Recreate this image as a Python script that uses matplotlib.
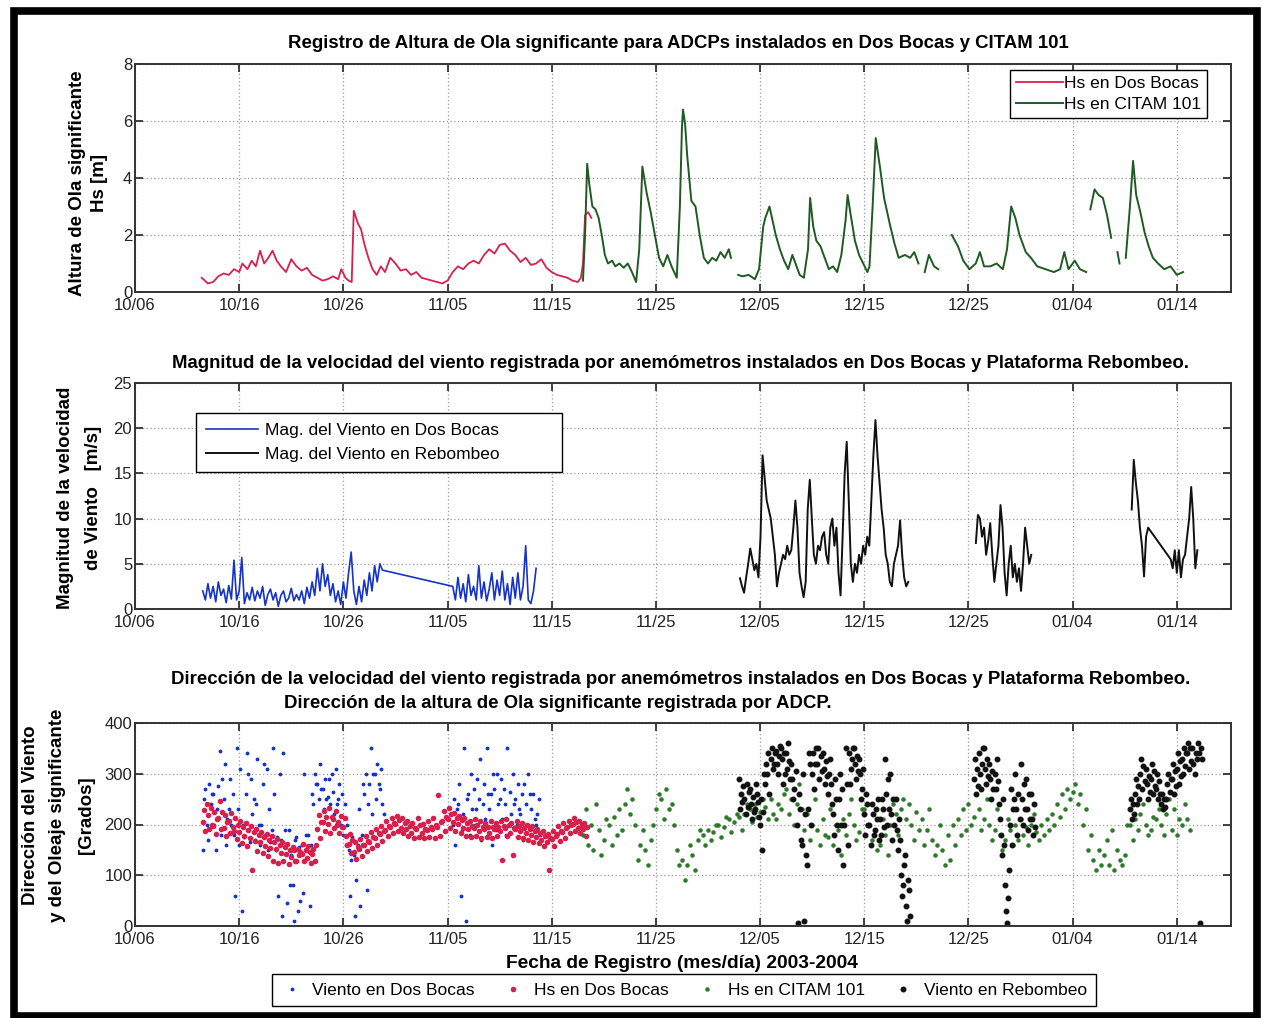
import numpy as np
import matplotlib
matplotlib.use("Agg")
import matplotlib.pyplot as plt
from matplotlib.patches import Rectangle

plt.rcParams['font.family'] = ['Liberation Sans', 'DejaVu Sans']

W, H = 1262, 1018
nan = np.nan

# ---- eje temporal: dias desde 10/06 ----
tick_days = [0, 10, 20, 30, 40, 50, 60, 70, 80, 90, 100]
tick_labels = ['10/06', '10/16', '10/26', '11/05', '11/15', '11/25',
               '12/05', '12/15', '12/25', '01/04', '01/14']

# ---- Hs en Dos Bocas [m] ----
hs_db_day = [6.4, 7.0, 7.5, 8.0, 8.5, 9.0, 9.5, 10.0,
             10.3, 10.8, 11.2, 11.6, 12.0, 12.4, 12.8, 13.2, 13.6, 14.0,
             14.5, 15.0, 15.5, 16.0, 16.5, 17.0, 17.5, 18.0, 18.5, 19.0, 19.5,
             19.8, 20.2, 20.5, 20.8, 21.0, 21.4, 21.7, 22.0, 22.4, 22.8, 23.2, 23.6, 24.0,
             24.5, 25.0, 25.5, 26.0, 26.5, 27.0, 27.5, 28.0, 28.5, 29.0, 29.5, 30.0,
             30.5, 31.0, 31.5, 32.0, 32.5, 33.0, 33.5, 34.0, 34.5, 35.0, 35.5, 36.0,
             36.5, 37.0, 37.5, 38.0, 38.5, 39.0, 39.5, 40.0, 40.5, 41.0, 41.5, 42.0, 42.5,
             42.8, 43.0, 43.2, 43.5, 43.8]
hs_db = [0.5, 0.3, 0.35, 0.55, 0.65, 0.6, 0.8, 0.7,
         1.0, 0.8, 1.1, 0.9, 1.45, 1.0, 1.2, 1.45, 1.1, 0.9,
         0.7, 1.15, 0.9, 0.75, 0.85, 0.6, 0.5, 0.4, 0.45, 0.55, 0.45,
         0.8, 0.5, 0.4, 0.35, 2.85, 2.4, 2.2, 1.7, 1.2, 0.8, 0.6, 0.9, 0.7,
         1.2, 1.0, 0.75, 0.8, 0.6, 0.7, 0.5, 0.45, 0.4, 0.35, 0.3, 0.4,
         0.7, 0.9, 0.8, 1.0, 1.1, 1.0, 1.3, 1.5, 1.35, 1.65, 1.7, 1.45,
         1.3, 1.05, 1.2, 0.95, 1.0, 1.15, 0.85, 0.7, 0.6, 0.55, 0.5, 0.4, 0.35,
         0.5, 1.0, 2.7, 2.8, 2.6]

# ---- Hs en CITAM 101 [m] ----
hs_ct_day = [43.0, 43.2, 43.4, 43.6, 43.9, 44.2, 44.5, 44.8, 45.1, 45.4, 45.8, 46.1,
             46.5, 46.9, 47.3, 47.7, 48.1, 48.4, 48.7, 49.1, 49.5, 49.9, 50.3, 50.7,
             51.1, 51.5, 52.0, 52.3, 52.5, 52.6, 52.8, 53.0, 53.4, 53.8, 54.2, 54.6,
             55.0, 55.4, 55.8, 56.2, 56.6, 57.0, 57.2, 57.5, 57.9, 58.3, 58.9, 59.5,
             59.9, 60.3, 60.5, 60.9, 61.2, 61.5, 61.9, 62.3, 62.7, 63.1, 63.5, 63.8,
             64.2, 64.6, 64.8, 65.1, 65.4, 65.8, 66.2, 66.6, 67.0, 67.4, 67.8, 68.2,
             68.4, 68.7, 69.1, 69.5, 69.9, 70.3, 70.5, 70.8, 71.1, 71.5, 71.9, 72.5,
             72.9, 73.3, 73.9, 74.4, 74.8, 75.2, 75.5, 75.8, 76.2, 76.7, 77.1, 77.5,
             78.4, 79.0, 79.5, 80.1, 80.7, 81.1, 81.5, 82.1, 82.7, 83.3, 83.7, 84.1,
             84.5, 84.9, 85.5, 86.0, 86.6, 87.4, 88.2, 88.8, 89.2, 89.6, 90.2, 90.7,
             91.3, 91.5, 91.7, 92.1, 92.5, 92.9, 93.3, 93.7, 94.0, 94.3, 94.5, 94.8,
             95.1, 95.5, 95.8, 96.1, 96.5, 96.9, 97.3, 97.7, 98.2, 98.8, 99.4, 100.0, 100.6]
hs_ct = [0.4, 2.0, 4.5, 3.8, 3.0, 2.9, 2.6, 2.0, 1.3, 1.0, 1.1, 0.9,
         1.0, 0.85, 1.0, 0.7, 0.35, 1.5, 4.4, 3.5, 2.8, 2.0, 1.2, 0.9,
         1.3, 0.9, 0.5, 3.0, 5.8, 6.4, 5.9, 4.8, 3.2, 3.0, 2.0, 1.2,
         1.0, 1.2, 1.1, 1.4, 1.2, 1.5, 1.2, nan, 0.6, 0.55, 0.6, 0.45,
         0.8, 2.3, 2.6, 3.0, 2.5, 2.0, 1.5, 1.1, 0.8, 1.3, 0.9, 0.6,
         0.5, 1.5, 3.3, 2.3, 1.8, 1.6, 1.2, 0.8, 0.9, 0.7, 1.3, 2.5,
         3.4, 2.7, 1.8, 1.3, 1.0, 0.7, 0.9, 3.0, 5.4, 4.4, 3.3, 2.3,
         1.7, 1.2, 1.3, 1.2, 1.4, 1.0, nan, 0.7, 1.3, 0.9, 0.8, nan,
         2.0, 1.6, 1.1, 0.8, 1.0, 1.4, 0.9, 0.9, 1.0, 0.8, 1.5, 3.0,
         2.6, 2.0, 1.4, 1.2, 0.9, 0.8, 0.7, 0.8, 1.4, 0.8, 1.1, 0.8,
         0.7, nan, 2.9, 3.6, 3.4, 3.3, 2.7, 1.9, nan, 1.4, 1.0, nan,
         1.2, 3.0, 4.6, 3.4, 2.8, 2.1, 1.6, 1.2, 1.0, 0.8, 0.9, 0.6, 0.7]

# ---- magnitud del viento en Dos Bocas [m/s], cada 6 h ----
vel_db_a = [2.0, 1.0, 2.8, 1.2, 2.5, 0.8, 3.0, 1.5, 2.2, 0.7, 2.6, 1.1,
            5.4, 1.0, 2.0, 5.7, 0.6, 1.8, 1.0, 2.4, 0.9, 2.0, 1.2, 2.5,
            0.4, 1.6, 2.2, 1.0, 1.8, 0.3, 1.5, 2.0, 0.8, 1.2, 2.3, 0.9,
            1.6, 1.0, 2.0, 0.6, 2.4, 1.2, 3.0, 1.5, 4.5, 2.0, 5.0, 2.5,
            3.8, 1.5, 2.8, 0.8, 2.0, 0.5, 3.0, 1.2, 4.0, 6.3, 2.0, 0.5,
            2.5, 0.8, 3.2, 1.5, 4.0, 2.0, 4.8, 3.0, 5.0, 4.3]
vel_db_b = [2.5, 1.0, 3.5, 1.2, 2.8, 0.8, 3.8, 1.5, 2.5, 1.0, 4.8, 1.2,
            3.0, 0.9, 2.2, 4.0, 1.0, 3.2, 1.5, 4.2, 1.0, 2.8, 0.5, 3.5,
            1.2, 4.0, 1.0, 2.5, 7.0, 1.0, 0.6, 2.0, 4.5]

# ---- magnitud del viento en Rebombeo [m/s] (tres tramos) ----
vel_rb_1 = [3.4, 2.5, 1.8, 3.5, 5.0, 6.7, 5.5, 4.3, 5.0, 3.5, 8.0, 17.0,
            14.5, 12.0, 11.0, 10.0, 8.0, 6.0, 2.5, 4.0, 5.0, 6.0, 5.5, 7.0,
            6.0, 6.5, 9.0, 12.0, 9.0, 4.0, 2.5, 1.3, 3.0, 11.0, 14.3, 10.0,
            6.0, 5.0, 7.0, 6.5, 8.0, 8.5, 6.0, 5.0, 9.0, 10.0, 7.0, 9.0,
            4.0, 1.5, 8.0, 15.0, 18.5, 12.0, 5.0, 3.0, 5.0, 4.0, 6.0, 5.0,
            7.0, 6.0, 8.0, 7.0, 12.0, 17.0, 20.9, 17.0, 14.0, 11.0, 9.0, 6.0,
            5.0, 3.0, 2.5, 5.0, 6.0, 7.0, 9.8, 6.0, 3.5, 2.5, 3.0]
vel_rb_2 = [7.3, 10.4, 10.0, 8.0, 9.0, 6.0, 7.5, 9.5, 6.0, 3.0, 5.0, 7.0,
            11.5, 9.0, 4.0, 1.5, 5.0, 7.0, 3.5, 5.0, 3.0, 4.5, 2.0, 5.0,
            9.0, 7.0, 5.0, 6.0]
vel_rb_3a = [11.0, 16.5, 14.0, 12.0, 9.0, 7.0, 3.6, 8.0, 9.0]
vel_rb_3b = [5.5, 4.5, 6.5, 4.0, 6.5, 3.5, 5.5, 6.0, 8.0, 10.0, 13.5, 10.0,
             4.5, 6.5]

# ---- direccion [grados]: varias lecturas por cada paso de 12 h ----
dir_vdb_a = [[150, 250, 270, 200], [170, 280, 240, 260], [260, 200, 150, 230],
             [275, 345, 180, 290], [250, 320, 160, 210], [230, 290, 200, 260],
             [180, 60, 350, 230], [160, 310, 30, 200], [175, 260, 340, 300],
             [165, 290, 220, 250], [170, 240, 330, 200], [160, 200, 280, 320],
             [180, 310, 150, 230], [165, 190, 350, 260], [150, 175, 60, 300],
             [170, 20, 340, 190], [160, 45, 190, 80], [140, 80, 10, 170],
             [175, 30, 155, 50], [160, 65, 300, 180], [150, 180, 40, 160],
             [260, 240, 300, 280], [280, 250, 320, 270], [270, 230, 290, 250],
             [255, 290, 240, 300], [265, 220, 310, 240], [250, 280, 200, 260],
             [180, 240, 160, 200], [150, 60, 130, 175], [140, 20, 90, 160],
             [230, 40, 180, 280], [260, 300, 70, 240], [280, 350, 220, 300],
             [300, 250, 320, 280], [270, 310, 240, 220]]
dir_vdb_b = [[200, 250, 160, 230], [240, 280, 60, 190], [220, 350, 10, 250],
             [260, 180, 300, 230], [270, 200, 230, 290], [250, 330, 170, 240],
             [280, 210, 350, 260], [230, 260, 160, 300], [270, 190, 300, 240],
             [250, 290, 210, 270], [240, 180, 350, 200], [265, 220, 300, 240],
             [250, 200, 280, 230], [220, 260, 170, 280], [240, 200, 300, 260],
             [230, 180, 260, 210], [200, 220, 250, 180]]
dir_hdb = [[205, 228, 188, 240], [218, 192, 232, 200], [198, 224, 182, 210],
           [212, 246, 192, 225], [194, 218, 178, 205], [206, 183, 222, 196],
           [188, 212, 172, 200], [186, 207, 163, 195], [178, 202, 158, 190],
           [174, 197, 110, 185], [168, 192, 148, 180], [166, 186, 143, 175],
           [158, 182, 138, 170], [154, 177, 128, 165], [151, 171, 124, 160],
           [144, 166, 129, 155], [141, 162, 123, 150], [136, 156, 149, 128],
           [129, 152, 139, 145], [141, 161, 128, 150], [134, 157, 146, 125],
           [142, 152, 128, 160], [192, 218, 174, 205], [204, 227, 188, 215],
           [201, 232, 184, 215], [211, 193, 227, 200], [204, 183, 216, 195],
           [196, 212, 178, 160], [161, 182, 143, 170], [146, 166, 133, 155],
           [151, 172, 138, 160], [159, 177, 148, 168], [166, 186, 153, 175],
           [174, 192, 159, 183], [181, 197, 168, 188], [189, 207, 178, 197],
           [196, 212, 183, 203], [201, 217, 188, 208], [194, 212, 183, 202],
           [191, 206, 178, 198], [184, 202, 173, 193], [191, 212, 176, 200],
           [184, 201, 173, 192], [189, 206, 176, 196], [191, 212, 173, 200],
           [196, 258, 178, 205], [206, 227, 188, 215], [211, 232, 193, 220],
           [204, 222, 188, 212], [201, 217, 183, 208], [194, 212, 178, 203],
           [191, 207, 176, 198], [193, 210, 178, 200], [187, 206, 173, 196],
           [191, 202, 176, 195], [184, 207, 173, 196], [191, 202, 178, 196],
           [187, 207, 130, 197], [193, 210, 178, 200], [184, 202, 140, 193],
           [191, 206, 176, 198], [187, 202, 173, 194], [184, 199, 170, 192],
           [179, 197, 166, 188], [176, 191, 163, 183], [169, 187, 158, 178],
           [166, 181, 110, 173], [171, 187, 158, 178], [181, 197, 168, 188],
           [186, 202, 173, 193], [196, 207, 183, 200], [201, 212, 188, 205],
           [194, 207, 183, 200], [191, 202, 178, 195]]
dir_hct = [[180, 230], [160, 200], [150, 240], [190, 140], [170, 210], [200, 160],
           [215, 180], [230, 190], [240, 270], [220, 250], [200, 130], [160, 190],
           [150, 120], [170, 200], [230, 260], [250, 210], [270, 230], [240, 200],
           [150, 120], [130, 90], [120, 160], [140, 110], [170, 190], [180, 160],
           [190, 170], [185, 200], [200, 175], [195, 215], [210, 185], [205, 220],
           [215, 190], [220, 240], [230, 205], [240, 215], [225, 250], [235, 210],
           [250, 220], [210, 240], [230, 260], [270, 220], [250, 200], [240, 280],
           [230, 190], [220, 170], [200, 250], [190, 160], [210, 180], [175, 230],
           [160, 200], [190, 140], [210, 180], [220, 250], [200, 170], [185, 230],
           [230, 200], [200, 170], [190, 150], [160, 210], [180, 140], [200, 240],
           [220, 180], [230, 250], [210, 240], [200, 170], [225, 190], [210, 160],
           [190, 230], [170, 140], [160, 200], [150, 120], [180, 130], [200, 160],
           [210, 180], [230, 190], [240, 200], [215, 260], [230, 190], [210, 250],
           [200, 170], [190, 230], [180, 150], [170, 210], [190, 160], [200, 170],
           [210, 180], [195, 160], [200, 220], [185, 170], [200, 180], [210, 190],
           [220, 200], [240, 215], [260, 230], [270, 250], [265, 280], [240, 260],
           [200, 230], [150, 180], [130, 110], [150, 120], [140, 170], [120, 190],
           [110, 150], [130, 120], [140, 200], [200, 170], [210, 190], [220, 240],
           [200, 180], [190, 215], [210, 230], [200, 180], [220, 250], [190, 230],
           [180, 210], [200, 240], [210, 190]]
dir_vrb_1 = [[290, 230, 260, 245, 275], [250, 220, 280, 235, 265],
             [270, 240, 210, 255, 225], [230, 280, 260, 245, 215],
             [200, 250, 150, 225, 300], [280, 320, 300, 340, 260],
             [330, 350, 310, 320, 340], [345, 320, 300, 335, 355],
             [350, 330, 280, 340, 300], [340, 310, 360, 325, 290],
             [320, 290, 250, 270, 305], [200, 5, 260, 230, 170],
             [160, 300, 10, 220, 140], [120, 230, 340, 320, 200],
             [300, 340, 270, 320, 350], [320, 350, 290, 335, 305],
             [340, 310, 280, 325, 295], [260, 300, 330, 280, 240],
             [220, 180, 290, 250, 200], [150, 250, 300, 200, 270],
             [120, 200, 350, 280, 160], [340, 280, 310, 330, 350],
             [350, 320, 290, 335, 305], [330, 300, 250, 270, 310],
             [220, 180, 260, 240, 200], [200, 160, 240, 220, 180],
             [190, 230, 210, 250, 170], [210, 180, 250, 230, 195],
             [330, 260, 200, 290, 230], [300, 220, 170, 250, 200],
             [250, 190, 150, 210, 170], [100, 60, 80, 120, 140],
             [40, 10, 90, 70, 20]]
dir_vrb_2 = [[290, 330, 260, 310, 275], [340, 300, 270, 320, 350],
             [350, 310, 280, 330, 295], [320, 290, 250, 305, 270],
             [300, 270, 330, 285, 240], [210, 180, 140, 250, 160],
             [80, 30, 5, 55, 110], [200, 270, 160, 230, 250],
             [300, 230, 180, 260, 210], [320, 250, 200, 280, 230],
             [290, 230, 190, 260, 210], [260, 210, 180, 240, 195]]
dir_vrb_3 = [[230, 250, 210, 240, 220], [260, 290, 240, 275, 250],
             [300, 330, 270, 315, 285], [310, 280, 250, 295, 265],
             [290, 320, 260, 305, 275], [270, 300, 250, 285, 260],
             [240, 260, 230, 250, 235], [250, 280, 300, 265, 290],
             [290, 320, 260, 305, 275], [310, 340, 280, 325, 295],
             [330, 300, 350, 315, 340], [340, 360, 310, 350, 325],
             [350, 320, 300, 340, 330], [360, 340, 5, 350, 330]]


def fx(px):
    return px / W


def fy(py):
    return 1 - py / H


def samples(start, step, rows):
    # expande una tabla de lecturas (filas = instantes) a puntos x, y
    rows = np.asarray(rows, dtype=float)
    n, k = rows.shape
    t = start + step * np.arange(n)
    xs = np.concatenate([t + j * step / k for j in range(k)])
    ys = np.concatenate([rows[:, j] for j in range(k)])
    return xs, ys


def style_axes(ax, ymax, ystep):
    ax.set_xlim(0, 105.2)
    ax.set_ylim(0, ymax)
    ax.set_xticks(tick_days)
    ax.set_xticklabels(tick_labels)
    ax.set_yticks(np.arange(0, ymax + 0.1, ystep))
    ax.grid(True, linestyle=(0, (1, 2)), color='#9a9a9a', linewidth=0.9)
    ax.tick_params(direction='in', top=True, right=True, length=6, width=1.2,
                   labelsize=12, pad=2, colors='#222222')
    ax.tick_params(axis='x', pad=4)
    for sp in ax.spines.values():
        sp.set_linewidth(1.4)
        sp.set_color('#333333')


fig = plt.figure(figsize=(W / 100, H / 100), dpi=100)
fig.patches.append(Rectangle((fx(14), fy(1016)), fx(1257) - fx(14), fy(11) - fy(1016),
                             transform=fig.transFigure, fill=False,
                             edgecolor='black', linewidth=5.5))

RED = '#d8204c'
GREEN = '#1f5a22'
BLUE = '#1533c8'
BLACK = '#111111'

# ---------------- panel 1: Hs ----------------
ax1 = fig.add_axes([fx(135), fy(292), fx(1231) - fx(135), (292 - 64) / H])
ax1.plot(hs_db_day, hs_db, color=RED, linewidth=1.3, label='Hs en Dos Bocas')
ax1.plot(hs_ct_day, hs_ct, color=GREEN, linewidth=1.4, label='Hs en CITAM 101')
style_axes(ax1, 8, 2)
ax1.legend(loc='upper right', bbox_to_anchor=(fx(1207), fy(70)),
           bbox_transform=fig.transFigure, fontsize=12.5, fancybox=False,
           edgecolor='black', framealpha=1, handlelength=2.7, borderpad=0.36,
           labelspacing=0.32, handletextpad=0.05, borderaxespad=0)

fig.text(fx(678), fy(43), 'Registro de Altura de Ola significante para ADCPs '
         'instalados en Dos Bocas y CITAM 101', ha='center', va='center',
         fontsize=13.4, fontweight='bold')
fig.text(fx(77), fy(183), 'Altura de Ola significante', rotation=90,
         ha='center', va='center', fontsize=13.5, fontweight='bold')
fig.text(fx(100), fy(183), 'Hs [m]', rotation=90,
         ha='center', va='center', fontsize=13.5, fontweight='bold')

# ---------------- panel 2: magnitud del viento ----------------
ax2 = fig.add_axes([fx(135), fy(609), fx(1231) - fx(135), (609 - 383) / H])
t_db = np.concatenate([6.5 + 0.25 * np.arange(len(vel_db_a)),
                       30.5 + 0.25 * np.arange(len(vel_db_b))])
ax2.plot(t_db, vel_db_a + vel_db_b, color=BLUE, linewidth=1.2,
         label='Mag. del Viento en Dos Bocas' + ' ' * 11)
step_rb = 0.197
t_rb = np.concatenate([58.07 + step_rb * np.arange(len(vel_rb_1)), [nan],
                       80.71 + step_rb * np.arange(len(vel_rb_2)), [nan],
                       95.67 + step_rb * np.arange(len(vel_rb_3a)),
                       99.41 + step_rb * np.arange(len(vel_rb_3b))])
v_rb = vel_rb_1 + [nan] + vel_rb_2 + [nan] + vel_rb_3a + vel_rb_3b
ax2.plot(t_rb, v_rb, color=BLACK, linewidth=1.4, label='Mag. del Viento en Rebombeo')
style_axes(ax2, 25, 5)
ax2.legend(loc='upper left', bbox_to_anchor=(fx(196), fy(413)),
           bbox_transform=fig.transFigure, fontsize=12.5, fancybox=False,
           edgecolor='black', framealpha=1, handlelength=3.0, borderpad=0.55,
           labelspacing=0.55, handletextpad=0.4, borderaxespad=0)

fig.text(fx(681), fy(363), 'Magnitud de la velocidad del viento registrada por '
         'anemómetros instalados en Dos Bocas y Plataforma Rebombeo.',
         ha='center', va='center', fontsize=13.4, fontweight='bold')
fig.text(fx(66), fy(498), 'Magnitud de la velocidad', rotation=90,
         ha='center', va='center', fontsize=13.5, fontweight='bold')
fig.text(fx(93), fy(498), 'de Viento   [m/s]', rotation=90,
         ha='center', va='center', fontsize=13.5, fontweight='bold')

# ---------------- panel 3: direcciones ----------------
ax3 = fig.add_axes([fx(135), fy(926), fx(1231) - fx(135), (926 - 723) / H])
xa, ya = samples(6.5, 0.5, dir_vdb_a)
xb, yb = samples(30.5, 0.5, dir_vdb_b)
ax3.plot(np.concatenate([xa, xb]), np.concatenate([ya, yb]), '.', color=BLUE,
         markersize=3.5, label='Viento en Dos Bocas')
x, y = samples(6.5, 0.5, dir_hdb)
ax3.plot(x, y, '.', color=RED, markersize=6, label='Hs en Dos Bocas')
x, y = samples(43.0, 0.5, dir_hct)
ax3.plot(x, y, '.', color='#2f7a2a', markersize=4.5, label='Hs en CITAM 101')
x1, y1 = samples(58.0, 0.5, dir_vrb_1)
x2, y2 = samples(80.5, 0.5, dir_vrb_2)
x3, y3 = samples(95.5, 0.5, dir_vrb_3)
ax3.plot(np.concatenate([x1, x2, x3]), np.concatenate([y1, y2, y3]), '.',
         color=BLACK, markersize=6.5, label='Viento en Rebombeo')
style_axes(ax3, 400, 100)

fig.legend(handles=ax3.get_lines(), loc='center', ncol=4,
           bbox_to_anchor=(fx(684), fy(990)), fontsize=12.5, fancybox=False,
           edgecolor='black', framealpha=1, handlelength=1.2, borderpad=0.5,
           columnspacing=1.6, handletextpad=0.6, markerscale=1.0)

fig.text(fx(681), fy(679), 'Dirección de la velocidad del viento registrada por '
         'anemómetros instalados en Dos Bocas y Plataforma Rebombeo.',
         ha='center', va='center', fontsize=13.4, fontweight='bold')
fig.text(fx(558), fy(703), 'Dirección de la altura de Ola significante registrada por ADCP.',
         ha='center', va='center', fontsize=13.4, fontweight='bold')
fig.text(fx(31), fy(815), 'Dirección del Viento', rotation=90,
         ha='center', va='center', fontsize=13.5, fontweight='bold')
fig.text(fx(58), fy(815), 'y del Oleaje significante', rotation=90,
         ha='center', va='center', fontsize=13.5, fontweight='bold')
fig.text(fx(87), fy(815), '[Grados]', rotation=90,
         ha='center', va='center', fontsize=13.5, fontweight='bold')
fig.text(fx(682), fy(963), 'Fecha de Registro (mes/día) 2003-2004',
         ha='center', va='center', fontsize=13.8, fontweight='bold')

fig.savefig('out.png', dpi=100)
